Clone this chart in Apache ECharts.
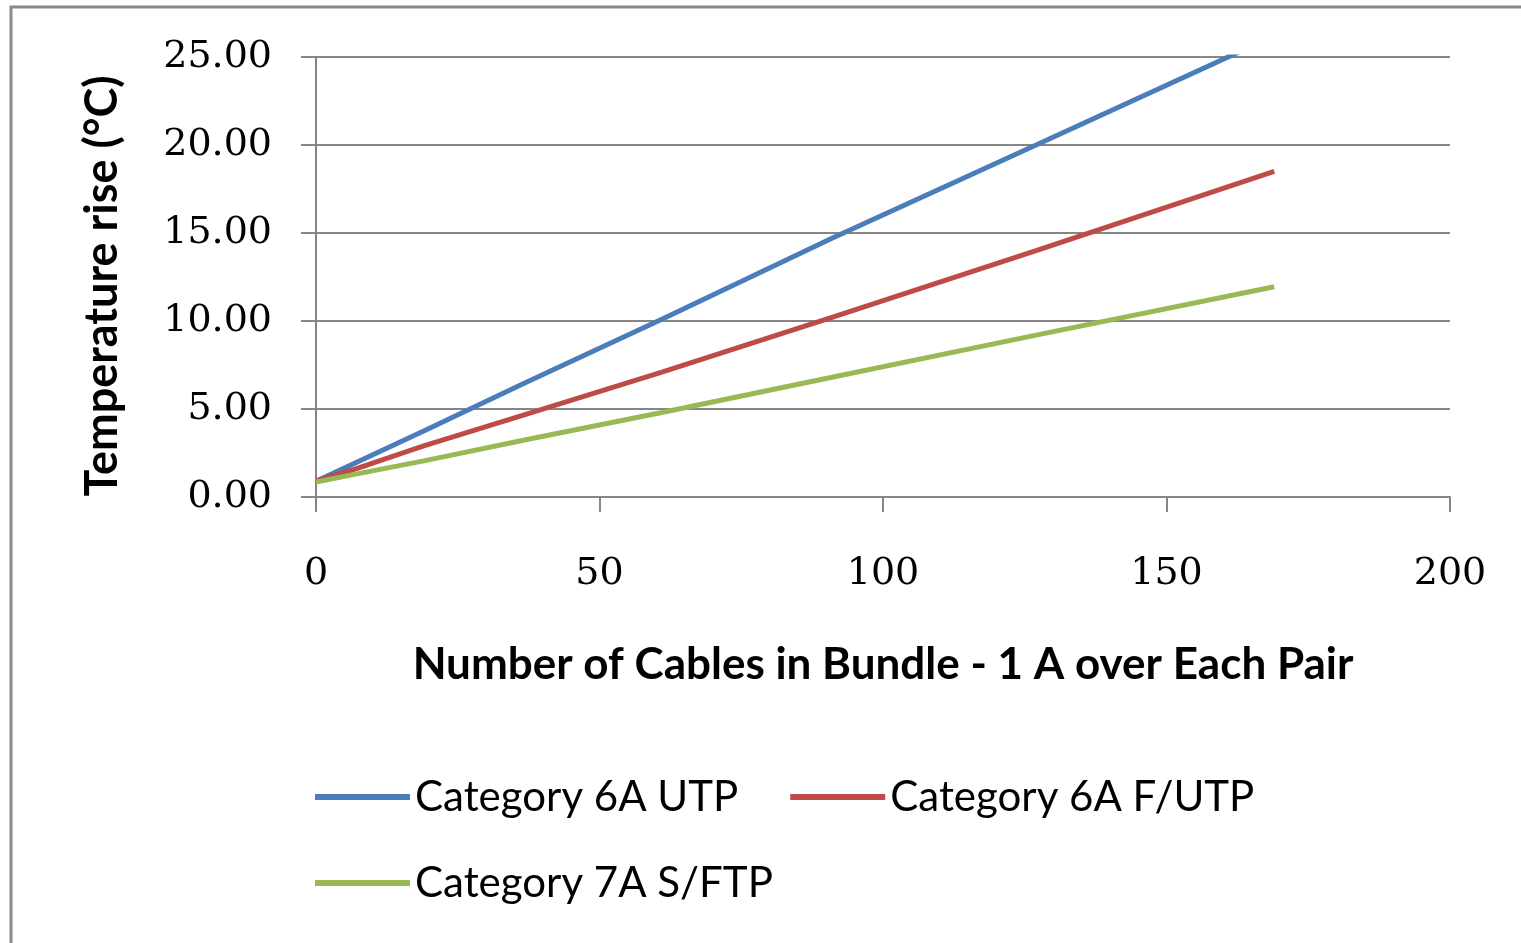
<!DOCTYPE html>
<html>
<head>
<meta charset="utf-8">
<script src="https://cdn.jsdelivr.net/npm/echarts@6/dist/echarts.min.js"></script>
<style>
html,body{margin:0;padding:0;background:#fff;}
#chart{width:1521px;height:943px;}
</style>
</head>
<body>
<div id="chart"></div>
<script>
// Number of cables in bundle
const cables = [0, 7, 19, 37, 61, 91, 127, 169];
// Temperature rise (°C)
const cat6aUTP  = [0.9, 1.95, 3.75, 6.5, 10.1, 14.7, 20.0, 26.2];
const cat6aFUTP = [0.9, 1.6, 2.9, 4.7, 7.1, 10.2, 14.0, 18.5];
const cat7aSFTP = [0.85, 1.3, 2.05, 3.25, 4.8, 6.8, 9.2, 11.95];
const seriesNames = ['Category 6A UTP', 'Category 6A F/UTP', 'Category 7A S/FTP'];
const xTitle = 'Number of Cables in Bundle - 1 A over Each Pair';
const yTitle = 'Temperature rise (°C)';
const xTicks = [0, 50, 100, 150, 200];
const yTicks = [0, 5, 10, 15, 20, 25];

const pair = (ys) => cables.map((x, i) => [x, ys[i]]);
const axisGrey = '#868686';
const serif = '"DejaVu Serif", "Liberation Serif", serif';
const sans = 'Lato, "Noto Sans", sans-serif';

const chart = echarts.init(document.getElementById('chart'));
chart.setOption({
  backgroundColor: '#ffffff',
  animation: false,
  graphic: [{
    type: 'rect',
    shape: { x: 11, y: 7, width: 1560, height: 960 },
    style: { fill: 'none', stroke: '#8a8a8a', lineWidth: 3 },
    silent: true
  }, {
    type: 'text',
    x: 102, y: 286, rotation: Math.PI / 2,
    style: {
      text: yTitle, fontFamily: sans, fontWeight: 'bold', fontSize: 45,
      fill: '#000', align: 'center', verticalAlign: 'middle'
    },
    silent: true
  }],
  grid: { left: 316, right: 71, top: 57, bottom: 446, containLabel: false },
  legend: [{
    data: [seriesNames[0], seriesNames[1]],
    left: 310, top: 767,
    icon: 'rect', itemWidth: 95, itemHeight: 6, itemGap: 52,
    textStyle: { fontFamily: sans, fontSize: 42, color: '#000', lineHeight: 50 }
  }, {
    data: [seriesNames[2]],
    left: 310, top: 853,
    icon: 'rect', itemWidth: 95, itemHeight: 6,
    textStyle: { fontFamily: sans, fontSize: 42, color: '#000', lineHeight: 50 }
  }],
  xAxis: {
    type: 'value', min: xTicks[0], max: xTicks[xTicks.length - 1], interval: 50,
    name: xTitle,
    nameLocation: 'middle', nameGap: 146,
    nameTextStyle: { fontFamily: sans, fontWeight: 'bold', fontSize: 44, color: '#000' },
    axisLine: { show: true, lineStyle: { color: axisGrey, width: 2 } },
    axisTick: { show: true, length: 15, lineStyle: { color: axisGrey, width: 2 } },
    axisLabel: { fontFamily: serif, fontSize: 38, color: '#000', margin: 58 },
    splitLine: { show: false }
  },
  yAxis: {
    type: 'value', min: yTicks[0], max: yTicks[yTicks.length - 1], interval: 5,
    axisLine: { show: true, lineStyle: { color: axisGrey, width: 2 } },
    axisTick: { show: true, length: 15, lineStyle: { color: axisGrey, width: 2 } },
    axisLabel: { fontFamily: serif, fontSize: 38, color: '#000', margin: 44,
      formatter: (v) => v.toFixed(2) },
    splitLine: { show: true, lineStyle: { color: axisGrey, width: 2 } }
  },
  series: [
    { name: seriesNames[0], type: 'line', data: pair(cat6aUTP), symbol: 'none',
      clip: true, color: '#4A7EBB', lineStyle: { width: 5, color: '#4A7EBB' } },
    { name: seriesNames[1], type: 'line', data: pair(cat6aFUTP), symbol: 'none',
      clip: true, color: '#BE4B48', lineStyle: { width: 5, color: '#BE4B48' } },
    { name: seriesNames[2], type: 'line', data: pair(cat7aSFTP), symbol: 'none',
      clip: true, color: '#98B954', lineStyle: { width: 5, color: '#98B954' } }
  ]
});
</script>
</body>
</html>
